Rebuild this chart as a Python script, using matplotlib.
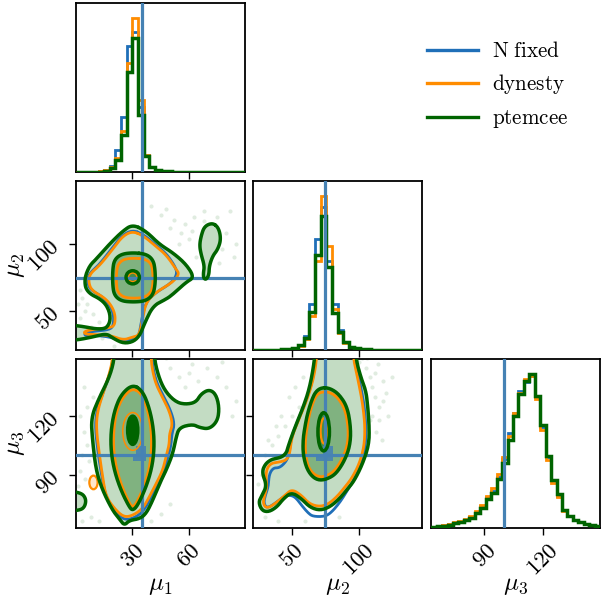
import numpy as np
import matplotlib
matplotlib.use("Agg")
import matplotlib.pyplot as plt
from matplotlib.lines import Line2D
from matplotlib.patches import Ellipse

plt.rcParams['mathtext.fontset'] = 'cm'
plt.rcParams['font.family'] = ['DejaVu Serif']

# ---------------- data ----------------
labels = [r'$\mu_1$', r'$\mu_2$', r'$\mu_3$']
truths = [35, 75, 100]
ranges = [(0, 90), (21, 147), (62.6, 149.4)]
ticks = [[30, 60], [50, 100], [90, 120]]
series = [r'$\mathrm{N\ fixed}$', r'$\mathrm{dynesty}$', r'$\mathrm{ptemcee}$']

# histogram bins (lo, hi, nbins)
bins_mu1 = (0, 90, 30)
bins_mu2 = (21, 147, 30)
bins_mu3 = (62.7, 149.5, 31)

mu1_blue = [0, 0, 0.1, 0.2, 0.4, 1.2, 4, 14, 36, 82, 91, 42, 11, 3.5, 1.2, 0.6, 0.4, 0.3, 0.2, 0.2, 0.1, 0.1, 0.1, 0.1, 0.1, 0, 0, 0, 0, 0]
mu1_orange = [0, 0, 0.1, 0.2, 0.4, 1, 3, 9, 27, 71, 100, 47, 11, 3.5, 1.2, 0.6, 0.4, 0.3, 0.2, 0.2, 0.1, 0.1, 0.1, 0.1, 0.1, 0.1, 0.1, 0, 0, 0]
mu1_green = [0, 0, 0.1, 0.2, 0.3, 0.8, 2.6, 7.8, 24, 65, 87, 37, 10.5, 3.3, 1.2, 0.6, 0.4, 0.3, 0.2, 0.2, 0.1, 0.1, 0.1, 0.1, 0.1, 0.1, 0, 0, 0, 0]

mu2_blue = [0, 0, 0, 0, 0.2, 0.4, 0.7, 1.2, 3, 9, 30, 72, 93, 58, 30, 13, 5.5, 2.2, 1, 0.5, 0.3, 0.2, 0.1, 0.1, 0, 0, 0, 0, 0, 0]
mu2_orange = [0, 0, 0, 0, 0.2, 0.4, 0.6, 1, 2.5, 7, 22, 58, 100, 68, 27, 11, 4.5, 2, 1, 0.5, 0.3, 0.2, 0.1, 0.1, 0, 0, 0, 0, 0, 0]
mu2_green = [0, 0.1, 0.1, 0.2, 0.3, 0.4, 0.6, 1.2, 3, 8, 25, 62, 87, 54, 24, 11.5, 5, 2.2, 1.2, 0.6, 0.4, 0.2, 0.1, 0.1, 0.1, 0, 0, 0, 0, 0]

mu3_blue = [0.5, 1.1, 1.7, 2.3, 3.4, 4.2, 5.5, 7, 10, 14, 20, 24, 33, 45, 62, 75, 89, 95, 99, 85, 66, 46, 31, 21, 12, 8, 5.3, 3.8, 2.7, 2.1, 1.5]
mu3_orange = [0.6, 1.2, 1.8, 2.5, 3.6, 4.5, 6, 8, 11, 15, 21, 26, 35, 46, 60, 75, 88, 97, 99, 84, 64, 44, 29, 20, 11, 7.5, 5, 3.6, 2.6, 2, 1.4]
mu3_green = [0.5, 1.1, 1.6, 2.2, 3.3, 4, 5.2, 6.6, 10, 13, 19, 23, 32, 42, 57, 73, 87, 96, 100, 86, 67, 47, 31, 22, 12, 8, 5.5, 4, 2.7, 2.2, 1.6]

# ---- panel A : mu1 (x) vs mu2 (y) ----
A_green_outer = [(30.2, 114.6), (37.3, 109.6), (44.4, 99.8), (51.5, 93.6), (58.6, 85), (63, 75.2), (58.6, 71.5),
                 (51.8, 62.8), (48.3, 59.1), (41.2, 54.2), (36.8, 41.9), (34.1, 32), (30.5, 27.1), (25.2, 25.9),
                 (19.9, 29.6), (16.3, 33.3), (9.2, 30.8), (0, 28.3), (-8, 28), (-8, 39.5), (0, 39.5), (14.5, 35.7),
                 (18.1, 40.7), (18.1, 49.3), (14.5, 57.9), (5.6, 64.1), (4.4, 73.9), (7.1, 83.7), (10.7, 88.7),
                 (17.7, 99.8), (24.8, 109.6)]
A_green_blob = [(72.8, 115.8), (76, 112), (77.2, 103.5), (75.5, 96), (72.8, 91.1), (71, 83.7), (70.8, 77), (69.3, 73.5),
                (68, 74.5), (67.8, 78), (68.4, 83.7), (66.6, 92.4), (65.8, 99), (66.6, 105.9), (68.4, 113.3)]
A_orange_outer = [(30.2, 109.6), (36, 106), (42, 99), (48, 92), (53.3, 81.3), (55, 77.6), (51.5, 71.5), (42.6, 64.1),
                  (37.3, 56.7), (35.5, 44.3), (33.7, 32), (30.5, 30.8), (25.2, 28.3), (18.1, 32), (9.2, 32.5),
                  (4.5, 33), (4.5, 35), (9.8, 36.5), (17.7, 37.5), (20.8, 39.4), (20.8, 49.3), (16.3, 59.1),
                  (8.3, 65.3), (6.6, 72), (7.5, 78), (12.4, 83.7), (19.5, 96), (24.8, 105.9)]
A_blue_outer = [(30.2, 110.5), (36, 107), (42, 100), (48, 93), (52.5, 84), (54, 78), (51, 71), (42, 63.5), (37, 56),
                (35, 44), (33.5, 31), (30.5, 29.5), (25, 27.3), (18, 30.8), (9, 32), (5, 31.5), (4.5, 33.5), (9.5, 35),
                (17.5, 36), (20, 39), (20, 49.3), (15.5, 59.5), (7.5, 66), (6, 72), (7, 78), (12, 84), (19, 96.5),
                (24.5, 106.5)]
A_green_mid = [(30.5, 93.6), (37.5, 92.5), (41.2, 88), (42.2, 80), (42.2, 70), (41, 62), (37, 57.5), (30.5, 56.7),
               (24, 57.5), (20.3, 62), (19.5, 70), (19.5, 80), (20.3, 88), (24, 92.5)]
A_orange_mid = [(31, 89.5), (37, 88.8), (40.2, 85), (41, 78), (41, 70), (40, 64), (36.5, 60.2), (31, 59.5),
                (25.5, 60.2), (22.2, 64), (21.5, 70), (21.5, 78), (22.3, 85), (25.5, 88.8)]
# inner contours: (centre x, centre y, width, height)
A_green_inner = (30.2, 75.2, 7.1, 9.8)
A_orange_inner = (30.2, 75.2, 5.0, 7.0)

# ---- panel B : mu1 (x) vs mu3 (y) ----
B_green_outer = [(20.4, 158), (20.4, 149.1), (17.7, 139.8), (12.4, 129.6), (8.0, 119.3), (8.8, 107.4), (10.7, 92),
                 (14.2, 81.8), (19.5, 71.6), (23.1, 67.3), (25.7, 63.9), (28.4, 66.5), (33.7, 67.3), (37.3, 69.9),
                 (40.8, 76.7), (44.4, 85.2), (47.9, 92), (51.5, 100.6), (53.3, 109.1), (55, 114.2), (62.1, 115.9),
                 (65.7, 114.2), (71, 113.4), (75.4, 117.6), (76.3, 124.4), (74.6, 131.2), (71, 133.8), (66.6, 131.5),
                 (63.9, 127.2), (58.6, 126.1), (53.3, 127.2), (47.9, 132.3), (44.4, 139.1), (41.7, 149.1), (41.7, 158)]
B_green_blob = [(-8, 81.5), (2.5, 81), (5.5, 77.5), (4.5, 73), (1, 71.5), (-8, 71.5)]
B_orange_outer = [(19.5, 158), (19.5, 149.1), (17.7, 141.5), (14.2, 131.2), (11.5, 122.7), (10.7, 114.2),
                  (12.4, 100.6), (14.2, 88.7), (16, 78.5), (21.3, 71.6), (25.7, 68.2), (30.2, 69), (35.5, 72.5),
                  (39, 78.5), (42.6, 85.2), (46.1, 92), (47.9, 98.9), (49.7, 105.7), (49.7, 110.8), (51.5, 115.9),
                  (49.7, 122.7), (46.1, 129.6), (42.6, 136.4), (40.8, 143.2), (40, 149.1), (40, 158)]
B_orange_blob = (9.3, 86, 4.4, 7.0)
B_blue_outer = [(19.8, 158), (19.8, 149), (17.8, 141), (14, 131), (11, 122.7), (10.2, 114.2), (11.8, 100.6),
                (13.8, 88.7), (16, 78), (21, 70.5), (25.7, 66.8), (30.5, 67.5), (35.8, 71), (39.5, 77.5), (43.5, 85),
                (47, 92), (49, 99), (50.7, 105.7), (51, 110.8), (52.5, 115.9), (50.5, 122.7), (47, 129.6),
                (43.3, 136.4), (41.3, 143.2), (40.5, 149), (40.5, 158)]
B_green_mid = [(30.2, 136.4), (35.5, 132.9), (39, 124.4), (41.2, 114.2), (41.7, 104), (40.5, 93.8), (37.3, 83.5),
               (32.8, 74.1), (30.2, 71.6), (28.4, 73.3), (24, 81.8), (20.4, 92), (18.6, 102.3), (18.6, 112.5),
               (20.4, 122.7), (24, 131.2)]
B_orange_mid = [(30.2, 134.5), (35, 131.5), (38, 124), (40, 114), (40.3, 104), (39.3, 94), (36.3, 84), (32.3, 75.5),
                (30.2, 73.3), (28.6, 75), (24.8, 83), (21.6, 92.5), (20, 102.5), (20, 112.5), (21.5, 122.5),
                (25, 130)]
B_green_inner = (30.2, 112.8, 5.4, 14.5)
B_orange_inner = (30.2, 112.2, 10.6, 19.4)
B_blue_patch = [(32, 104.8), (37.3, 104.8), (37.3, 97.1), (30.2, 97.1), (30.2, 100.6), (32, 100.6)]

# ---- panel C : mu2 (x) vs mu3 (y) ----
C_green_outer = [(67.5, 158), (67, 149.1), (63.3, 134.7), (58.3, 124.4), (52.2, 114.2), (47.3, 104.8), (46.1, 101.4),
                 (42.4, 98.9), (35, 98), (30.1, 95.5), (27.6, 91.2), (31.3, 84.4), (27.6, 79.3), (25.1, 75.9),
                 (27.6, 71.6), (32.5, 70.8), (38.7, 73.3), (43.6, 77.6), (49.8, 81), (57.2, 77.6), (63.3, 73.3),
                 (70.7, 71.6), (78.1, 73.3), (85.5, 77.6), (91.6, 82.7), (96.5, 86.9), (102.7, 95.5), (107.6, 105.7),
                 (107.6, 115.9), (106.4, 126.1), (105.2, 132.9), (101.5, 139.8), (97.8, 149.1), (97.5, 158)]
C_orange_outer = [(68.5, 158), (68.5, 149.1), (65.7, 138), (60.9, 127.8), (54.7, 117.6), (49.8, 109.1), (48.5, 101),
                  (46, 97.5), (41, 96.5), (35, 96), (31.5, 93.5), (30.5, 89), (31.5, 84), (29.5, 79), (28.5, 75.5),
                  (30.5, 73), (34, 73.5), (40, 76.5), (45, 79.5), (50, 82.5), (57, 79.5), (63, 75), (70.7, 73.5),
                  (77.5, 75), (84, 79), (90, 84), (95, 88.5), (100.5, 96), (104, 105), (104.5, 115), (103, 125),
                  (101, 133), (98.5, 141), (96, 149), (95.5, 158)]
C_blue_outer = [(68, 158), (68, 149), (65.3, 138), (60.5, 127.8), (54.3, 117.6), (49.5, 109.1), (48, 101), (46, 97),
                (41, 93.5), (36, 93.5), (33, 90), (32.5, 84), (30, 79), (29, 75.5), (31, 73), (35, 74), (40.5, 77),
                (46, 79.5), (52, 79), (57.5, 74), (62.5, 70), (66, 68.5), (75, 68.5), (80, 71), (86, 76), (91, 81.5),
                (96, 87), (101.5, 95.5), (105, 105), (105.3, 115), (104, 125), (102, 133), (99.5, 141), (96.5, 149),
                (96, 158)]
C_green_mid = [(71.9, 134.7), (78, 134.5), (85, 131.5), (91.6, 124.4), (94.1, 112.5), (93, 104), (89.1, 97.1),
               (84, 91.5), (79.3, 88.7), (71.9, 86.9), (66, 88.3), (61, 93), (58.3, 100.6), (58.3, 108),
               (59.6, 114.2), (61.5, 121), (64.5, 127.8), (67.5, 132.5)]
C_orange_mid = [(72, 132.5), (78, 132.5), (84.5, 129.5), (90, 123), (92.3, 112.5), (91.2, 104.5), (87.5, 98),
                (83, 93), (78.5, 90.2), (72, 88.6), (66.5, 90), (62, 94), (60, 101), (60, 108), (61.2, 114),
                (63, 121), (65.8, 127.3), (68.5, 131)]
C_green_inner = (73.7, 112, 8.6, 19.6)
C_orange_inner = (74, 112.5, 5.2, 13.0)
C_blue_patch = [(73.1, 104.8), (80.5, 104.8), (80.5, 97.1), (68.2, 97.1), (68.2, 100.6), (73.1, 100.6)]

# faint sample points
A_pts_x = [45, 52, 58, 63, 68, 74, 80, 82, 56, 60, 66, 72, 78, 50, 64, 70, 76, 62, 55, 48, 40, 85, 84, 68, 75,
           3, 6, 9, 2, 12, 5, 8, 2, 14, 20, 8, 1, 11]
A_pts_y = [122, 118, 115, 120, 117, 112, 108, 125, 108, 104, 100, 98, 96, 112, 90, 88, 86, 110, 100, 126, 128, 100, 90, 125, 120,
           60, 55, 48, 45, 42, 50, 70, 66, 30, 24, 38, 55, 62]
B_pts_x = [2, 4, 6, 3, 7, 2, 5, 1, 8, 12, 3, 6, 9, 4, 50, 55, 60, 65, 70, 75, 80, 85, 62, 48, 58, 78, 83, 56, 46,
           65, 45, 50, 40]
B_pts_y = [120, 112, 105, 100, 97, 92, 88, 84, 68, 66, 66, 125, 130, 135, 145, 140, 142, 138, 145, 140, 135, 128,
           147, 150, 135, 148, 120, 120, 118, 120, 70, 75, 66]
C_pts_x = [100, 105, 108, 110, 112, 115, 110, 118, 112, 106, 118, 120, 108, 113, 117, 122, 104, 114, 102, 125, 98,
           115, 35, 40, 30, 45, 50, 38, 32, 42, 28, 55, 25, 48, 52, 58, 30, 40, 60, 85]
C_pts_y = [148, 145, 140, 135, 130, 125, 120, 128, 142, 150, 138, 132, 118, 112, 108, 120, 135, 147, 150, 140, 150,
           118, 105, 110, 100, 115, 120, 115, 108, 120, 90, 125, 85, 130, 135, 140, 68, 66, 66, 68]

# ---------------- style ----------------
c_blue = '#1f6fb8'
c_orange = '#ff8c00'
c_green = '#006400'
truth_color = '#4682b4'
fill_light = (195 / 255, 220 / 255, 195 / 255)
fill_mid = (128 / 255, 178 / 255, 128 / 255)
fill_inner_soft = (70 / 255, 140 / 255, 70 / 255)


def chaikin(pts, n=3):
    P = np.asarray(pts, float)
    for _ in range(n):
        Q = np.roll(P, -1, axis=0)
        R = np.empty((2 * len(P), 2))
        R[0::2] = 0.75 * P + 0.25 * Q
        R[1::2] = 0.25 * P + 0.75 * Q
        P = R
    return P


def fill_poly(ax, pts, color, z=2):
    P = chaikin(pts)
    ax.fill(P[:, 0], P[:, 1], color=color, lw=0, zorder=z)


def line_poly(ax, pts, color, lw, z=3):
    P = chaikin(pts)
    P = np.vstack([P, P[:1]])
    ax.plot(P[:, 0], P[:, 1], color=color, lw=lw, zorder=z, solid_capstyle='round')


def ell(ax, e, fc='none', ec='none', lw=0, z=3):
    ax.add_patch(Ellipse((e[0], e[1]), e[2], e[3], facecolor=fc, edgecolor=ec, lw=lw, zorder=z))


W, H = 602, 607
fig = plt.figure(figsize=(W / 100, H / 100), dpi=100)
col_x = [76, 253, 431]
row_top = [3, 181, 359]
size = 169

axes = {}
for i in range(3):
    for j in range(i + 1):
        rect = [col_x[j] / W, 1 - (row_top[i] + size) / H, size / W, size / H]
        ax = fig.add_axes(rect)
        axes[(i, j)] = ax
        for s in ax.spines.values():
            s.set_linewidth(1.3)
        ax.tick_params(direction='out', length=5, width=1.0, labelsize=16.5)

# diagonal histograms
hists = [(bins_mu1, mu1_blue, mu1_orange, mu1_green),
         (bins_mu2, mu2_blue, mu2_orange, mu2_green),
         (bins_mu3, mu3_blue, mu3_orange, mu3_green)]
for k, (b, hb, ho, hg) in enumerate(hists):
    ax = axes[(k, k)]
    edges = np.linspace(b[0], b[1], b[2] + 1)
    ax.stairs(hb, edges, color=c_blue, lw=2.0, zorder=2)
    ax.stairs(ho, edges, color=c_orange, lw=2.0, zorder=3)
    ax.stairs(hg, edges, color=c_green, lw=2.5, zorder=4)
    ax.axvline(truths[k], color=truth_color, lw=2.3, zorder=5)
    ax.set_xlim(*ranges[k])
    ax.set_ylim(0, 1.1 * max(max(hb), max(ho), max(hg)))
    ax.set_yticks([])

# 2D panels
panels = {
    (1, 0): dict(pts=(A_pts_x, A_pts_y), g_out=[A_green_outer, A_green_blob], o_out=[A_orange_outer],
                 b_out=[A_blue_outer], g_mid=A_green_mid, o_mid=A_orange_mid,
                 g_in=A_green_inner, o_in=A_orange_inner, in_fc=fill_inner_soft, patch=None, o_blob=None),
    (2, 0): dict(pts=(B_pts_x, B_pts_y), g_out=[B_green_outer, B_green_blob], o_out=[B_orange_outer],
                 b_out=[B_blue_outer], g_mid=B_green_mid, o_mid=B_orange_mid,
                 g_in=B_green_inner, o_in=B_orange_inner, in_fc=c_green, patch=B_blue_patch, o_blob=B_orange_blob),
    (2, 1): dict(pts=(C_pts_x, C_pts_y), g_out=[C_green_outer], o_out=[C_orange_outer],
                 b_out=[C_blue_outer], g_mid=C_green_mid, o_mid=C_orange_mid,
                 g_in=C_green_inner, o_in=C_orange_inner, in_fc=fill_inner_soft, patch=C_blue_patch, o_blob=None),
}

for (i, j), p in panels.items():
    ax = axes[(i, j)]
    ax.plot(p['pts'][0], p['pts'][1], 'o', ms=3, color=c_green, alpha=0.12, mec='none', zorder=1)
    for poly in p['g_out']:
        fill_poly(ax, poly, fill_light, 2)
    fill_poly(ax, p['g_mid'], fill_mid, 2.1)
    ell(ax, p['g_in'], fc=p['in_fc'], z=2.2)
    if p['patch'] is not None:
        P = np.asarray(p['patch'])
        ax.fill(P[:, 0], P[:, 1], color=truth_color, alpha=0.9, lw=0, zorder=2.3)
    for poly in p['b_out']:
        line_poly(ax, poly, c_blue, 2.0, 3)
    for poly in p['o_out']:
        line_poly(ax, poly, c_orange, 2.0, 3.1)
    line_poly(ax, p['o_mid'], c_orange, 2.0, 3.1)
    ell(ax, p['o_in'], ec=c_orange, lw=1.6 if (i, j) != (2, 0) else 1.1, z=3.1)
    if p['o_blob'] is not None:
        ob = p['o_blob']
        ax.add_patch(Ellipse((ob[0], ob[1]), ob[2], ob[3], facecolor=(1, 0.9, 0.8), edgecolor=c_orange,
                             lw=1.6, zorder=3.1))
    ax.axvline(truths[j], color=truth_color, lw=2.3, zorder=3.5)
    ax.axhline(truths[i], color=truth_color, lw=2.3, zorder=3.5)
    for poly in p['g_out']:
        line_poly(ax, poly, c_green, 2.5, 4)
    line_poly(ax, p['g_mid'], c_green, 2.5, 4)
    ell(ax, p['g_in'], ec=c_green, lw=2.5, z=4)
    ax.set_xlim(*ranges[j])
    ax.set_ylim(*ranges[i])

# ticks and labels
for (i, j), ax in axes.items():
    ax.set_xticks(ticks[j])
    if i == 2:
        ax.set_xticklabels([f'${t}$' for t in ticks[j]], rotation=45)
        ax.set_xlabel(labels[j], fontsize=18)
        ax.xaxis.set_label_coords(0.5, -0.27)
    else:
        ax.set_xticklabels([])
    if i != j:
        ax.set_yticks(ticks[i])
        if j == 0:
            ax.set_yticklabels([f'${t}$' for t in ticks[i]], rotation=45)
            ax.set_ylabel(labels[i], fontsize=18)
            ax.yaxis.set_label_coords(-0.29, 0.5)
        else:
            ax.set_yticklabels([])

# legend (drawn in figure pixel positions)
leg_colors = [c_blue, c_orange, c_green]
leg_rows = [50, 83, 117]
for name, c, yrow in zip(series, leg_colors, leg_rows):
    fig.add_artist(Line2D([427 / W, 478 / W], [1 - yrow / H] * 2, color=c, lw=2.4,
                          transform=fig.transFigure))
    fig.text(492 / W, 1 - (yrow + 7) / H, name, fontsize=15.2, ha='left', va='baseline')

fig.savefig('out.png', dpi=100)
